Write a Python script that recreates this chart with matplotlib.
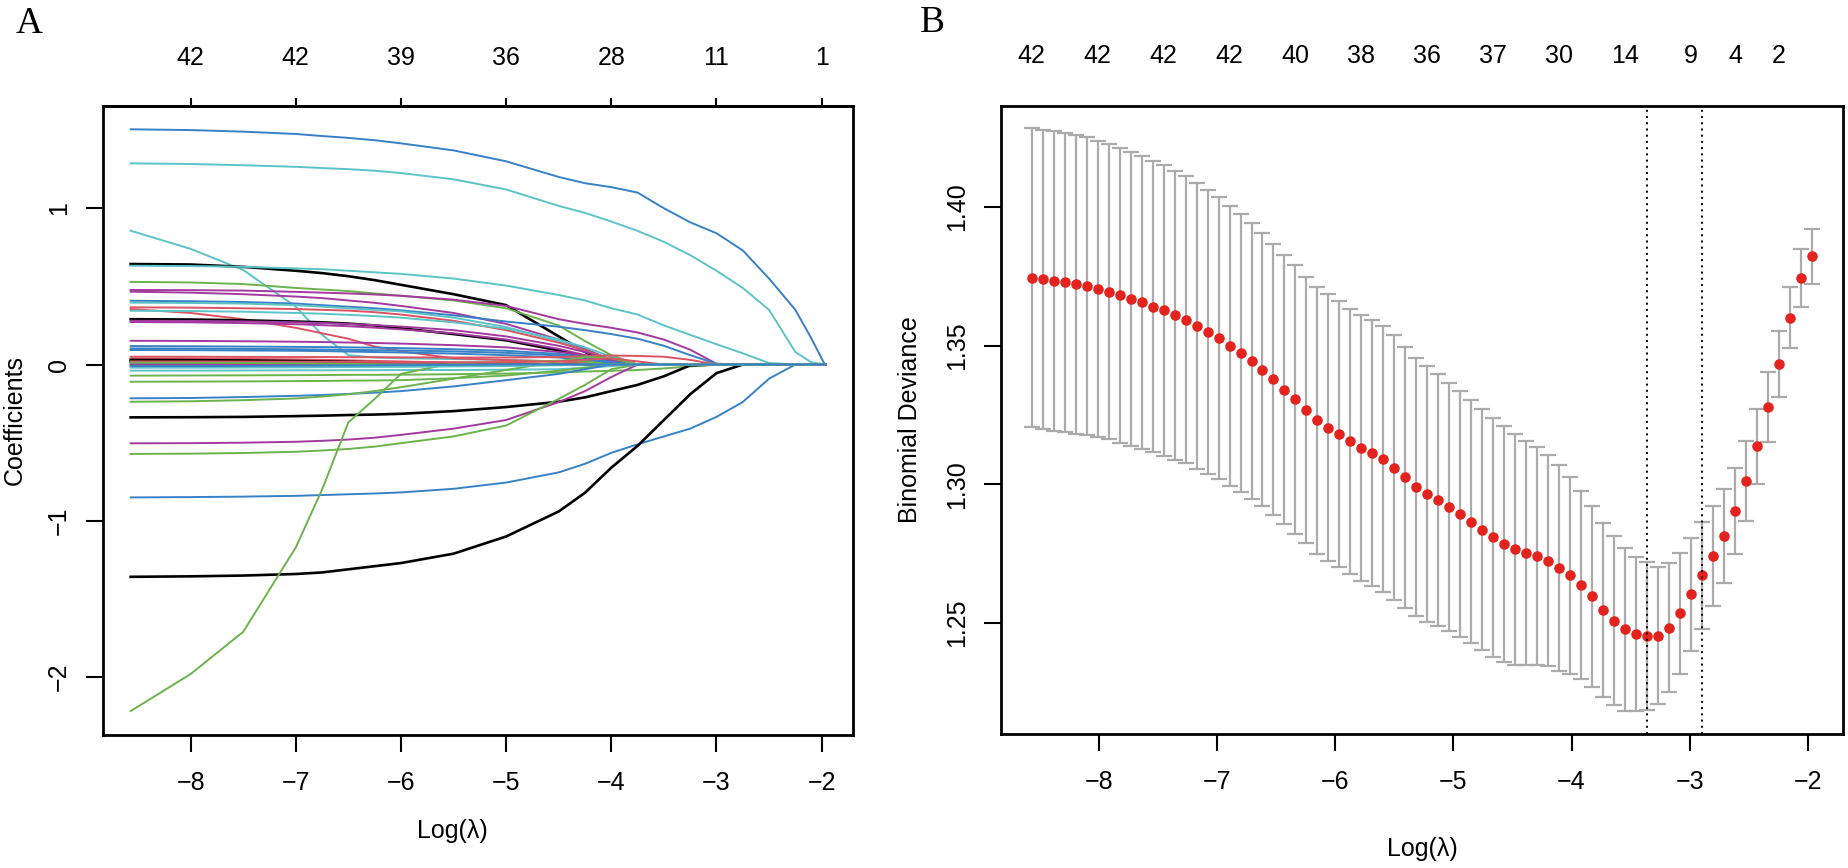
import matplotlib
matplotlib.use("Agg")
import matplotlib.pyplot as plt
import numpy as np

plt.rcParams['font.family'] = ['Liberation Sans', 'DejaVu Sans']

W, H = 1848, 868

# ---------------- panel A: coefficient paths ----------------
path_x = [-8.57, -8.0, -7.5, -7.0, -6.75, -6.5, -6.25, -6.0, -5.5, -5.0, -4.5,
          -4.25, -4.0, -3.75, -3.5, -3.25, -3.0, -2.75, -2.5, -2.25, -2.1, -1.97]

# one row per variable, read at path_x (trailing zeros left out)
coef_paths = [
    [1.505, 1.50, 1.49, 1.475, 1.462, 1.45, 1.435, 1.415, 1.37, 1.30, 1.20, 1.16, 1.135, 1.10, 1.00, 0.91, 0.84, 0.73, 0.55, 0.35, 0.17, 0.0],
    [1.287, 1.283, 1.275, 1.265, 1.257, 1.25, 1.24, 1.225, 1.185, 1.12, 1.015, 0.97, 0.915, 0.855, 0.785, 0.70, 0.60, 0.49, 0.35, 0.08, 0.015, 0.0],
    [0.856, 0.74, 0.605, 0.37, 0.19, 0.06, 0.045, 0.04, 0.035, 0.03, 0.02, 0.01, 0.0],
    [0.643, 0.64, 0.625, 0.60, 0.585, 0.565, 0.54, 0.51, 0.45, 0.38, 0.18, 0.08, 0.005, 0.0],
    [0.632, 0.63, 0.625, 0.615, 0.61, 0.60, 0.59, 0.58, 0.55, 0.505, 0.445, 0.41, 0.36, 0.32, 0.25, 0.19, 0.13, 0.072, 0.01, 0.0],
    [0.529, 0.525, 0.515, 0.49, 0.48, 0.47, 0.455, 0.44, 0.41, 0.36, 0.25, 0.15, 0.06, 0.0],
    [0.477, 0.476, 0.473, 0.465, 0.46, 0.455, 0.448, 0.44, 0.415, 0.375, 0.29, 0.26, 0.235, 0.205, 0.16, 0.095, 0.005, 0.0],
    [0.466, 0.46, 0.45, 0.435, 0.425, 0.41, 0.395, 0.375, 0.33, 0.26, 0.16, 0.10, 0.03, 0.0],
    [0.408, 0.405, 0.40, 0.39, 0.38, 0.37, 0.36, 0.347, 0.315, 0.275, 0.242, 0.22, 0.195, 0.165, 0.12, 0.06, 0.005, 0.0],
    [0.396, 0.394, 0.39, 0.38, 0.37, 0.36, 0.35, 0.34, 0.30, 0.24, 0.15, 0.09, 0.03, 0.0],
    [0.366, 0.364, 0.36, 0.355, 0.35, 0.345, 0.335, 0.32, 0.28, 0.22, 0.14, 0.09, 0.03, 0.0],
    [0.355, 0.33, 0.29, 0.235, 0.20, 0.165, 0.115, 0.085, 0.04, 0.028, 0.02, 0.01, 0.0],
    [0.344, 0.342, 0.338, 0.33, 0.325, 0.318, 0.31, 0.30, 0.27, 0.23, 0.16, 0.11, 0.05, 0.0],
    [0.29, 0.288, 0.283, 0.275, 0.27, 0.262, 0.25, 0.232, 0.195, 0.155, 0.09, 0.05, 0.005, 0.0],
    [0.28, 0.279, 0.276, 0.27, 0.266, 0.26, 0.252, 0.243, 0.22, 0.18, 0.12, 0.08, 0.03, 0.0],
    [0.272, 0.27, 0.265, 0.258, 0.252, 0.245, 0.236, 0.225, 0.20, 0.16, 0.10, 0.06, 0.02, 0.0],
    [0.152, 0.151, 0.149, 0.146, 0.144, 0.141, 0.138, 0.134, 0.124, 0.11, 0.08, 0.06, 0.02, 0.0],
    [0.118, 0.117, 0.115, 0.113, 0.112, 0.11, 0.108, 0.105, 0.098, 0.088, 0.068, 0.05, 0.015, 0.0],
    [0.103, 0.102, 0.10, 0.098, 0.096, 0.094, 0.092, 0.09, 0.084, 0.075, 0.058, 0.042, 0.012, 0.0],
    [0.093, 0.092, 0.09, 0.088, 0.086, 0.083, 0.08, 0.077, 0.07, 0.06, 0.045, 0.03, 0.01, 0.0],
    [0.05, 0.05, 0.049, 0.048, 0.048, 0.047, 0.047, 0.046, 0.045, 0.045, 0.048, 0.053, 0.058, 0.055, 0.05, 0.03, 0.0],
    [0.039, 0.038, 0.036, 0.033, 0.03, 0.027, 0.023, 0.02, 0.012, 0.005, 0.0],
    [0.029, 0.028, 0.026, 0.022, 0.02, 0.017, 0.014, 0.01, 0.005, 0.0],
    [0.018, 0.017, 0.015, 0.012, 0.01, 0.008, 0.005, 0.003, 0.0],
    [0.007, 0.006, 0.005, 0.003, 0.002, 0.001, 0.0],
    [-0.003, -0.003, -0.002, -0.001, 0.0],
    [-0.039, -0.039, -0.038, -0.037, -0.037, -0.036, -0.036, -0.035, -0.035, -0.033, -0.03, -0.02, -0.01, 0.0],
    [-0.071, -0.07, -0.069, -0.068, -0.067, -0.066, -0.066, -0.065, -0.062, -0.058, -0.05, -0.045, -0.04, -0.035, -0.025, -0.012, 0.0],
    [-0.11, -0.109, -0.108, -0.106, -0.105, -0.103, -0.102, -0.10, -0.088, -0.07, -0.04, -0.02, 0.0],
    [-0.216, -0.214, -0.208, -0.20, -0.195, -0.188, -0.18, -0.17, -0.14, -0.10, -0.06, -0.03, 0.0],
    [-0.238, -0.235, -0.228, -0.217, -0.205, -0.19, -0.17, -0.145, -0.09, -0.035, 0.02, 0.05, 0.04, 0.0],
    [-0.338, -0.337, -0.335, -0.33, -0.327, -0.323, -0.32, -0.315, -0.298, -0.272, -0.238, -0.21, -0.17, -0.13, -0.075, -0.005, 0.0],
    [-0.504, -0.503, -0.50, -0.494, -0.488, -0.48, -0.468, -0.45, -0.41, -0.355, -0.24, -0.17, -0.08, 0.0],
    [-0.572, -0.57, -0.566, -0.558, -0.55, -0.54, -0.525, -0.503, -0.46, -0.39, -0.22, -0.13, -0.03, 0.0],
    [-0.85, -0.848, -0.845, -0.84, -0.835, -0.83, -0.825, -0.818, -0.795, -0.755, -0.69, -0.635, -0.565, -0.51, -0.46, -0.41, -0.335, -0.24, -0.09, 0.0],
    [-1.358, -1.355, -1.35, -1.34, -1.33, -1.31, -1.29, -1.27, -1.21, -1.10, -0.94, -0.82, -0.66, -0.52, -0.355, -0.19, -0.055, 0.0],
    [-2.217, -1.98, -1.71, -1.17, -0.80, -0.37, -0.22, -0.06, 0.01, 0.015, 0.025, 0.02, 0.0],
    [0.012, 0.012, 0.011, 0.01, 0.009, 0.008, 0.007, 0.005, 0.0],
    [0.02, 0.02, 0.019, 0.018, 0.018, 0.017, 0.017, 0.016, 0.015, 0.015, 0.02, 0.03, 0.04, 0.02, 0.0],
    [0.012, 0.011, 0.01, 0.008, 0.006, 0.004, 0.002, 0.0],
    [-0.02, -0.02, -0.019, -0.018, -0.017, -0.016, -0.015, -0.015, -0.012, -0.01, -0.005, 0.0],
    [-0.01, -0.01, -0.009, -0.008, -0.007, -0.006, -0.005, -0.004, -0.002, 0.0],
]
path_colors = ['blue', 'cyan', 'cyan', 'black', 'cyan', 'green', 'magenta', 'magenta',
               'blue', 'cyan', 'red', 'red', 'cyan', 'black', 'magenta', 'magenta',
               'magenta', 'blue', 'blue', 'blue', 'red', 'red', 'black', 'black',
               'blue', 'magenta', 'cyan', 'green', 'green', 'blue', 'green', 'black',
               'magenta', 'green', 'blue', 'black', 'green', 'magenta', 'red', 'green',
               'cyan', 'blue']
a_top_ticks = [-8, -7, -6, -5, -4, -3, -2]
a_top_labels = ['42', '42', '39', '36', '28', '11', '1']

# ---------------- panel B: cross-validation curve ----------------
log_lambda = np.linspace(-8.569, -1.966, 72)   # glmnet lambda grid (evenly spaced in log)
cv_mean = [1.3745, 1.3739, 1.3734, 1.3729, 1.3721, 1.3714, 1.3705, 1.3695, 1.3682, 1.3668,
           1.3656, 1.3641, 1.3627, 1.3610, 1.3593, 1.3572, 1.3550, 1.3527, 1.3500, 1.3473,
           1.3444, 1.3413, 1.3379, 1.3342, 1.3306, 1.3268, 1.3231, 1.3205, 1.3181, 1.3155,
           1.3131, 1.3113, 1.3091, 1.3060, 1.3026, 1.2992, 1.2965, 1.2944, 1.2920, 1.2893,
           1.2865, 1.2836, 1.2809, 1.2784, 1.2766, 1.2753, 1.2741, 1.2725, 1.2699, 1.2672,
           1.2637, 1.2597, 1.2547, 1.2508, 1.2477, 1.2461, 1.2454, 1.2455, 1.2483, 1.2535,
           1.2604, 1.2672, 1.2742, 1.2814, 1.2904, 1.3012, 1.3138, 1.3278, 1.3434, 1.3601,
           1.3744, 1.3822]
cv_sd = [0.0538, 0.0539, 0.0540, 0.0539, 0.0539, 0.0537, 0.0534, 0.0532, 0.0532, 0.0531,
         0.0529, 0.0526, 0.0523, 0.0521, 0.0517, 0.0516, 0.0513, 0.0509, 0.0505, 0.0501,
         0.0497, 0.0492, 0.0488, 0.0486, 0.0484, 0.0481, 0.0481, 0.0480, 0.0479, 0.0478,
         0.0480, 0.0480, 0.0480, 0.0477, 0.0470, 0.0465, 0.0460, 0.0453, 0.0447, 0.0444,
         0.0438, 0.0434, 0.0431, 0.0425, 0.0416, 0.0404, 0.0393, 0.0380, 0.0370, 0.0354,
         0.0340, 0.0326, 0.0314, 0.0305, 0.0294, 0.0279, 0.0266, 0.0247, 0.0232, 0.0217,
         0.0204, 0.0194, 0.0179, 0.0168, 0.0156, 0.0145, 0.0135, 0.0127, 0.0119, 0.0111,
         0.0104, 0.0099]
b_top_index = [0, 6, 12, 18, 24, 30, 36, 42, 48, 54, 60, 64, 68]
b_top_labels = ['42', '42', '42', '42', '40', '38', '36', '37', '30', '14', '9', '4', '2']

palette = {'black': '#000000', 'red': '#DC5262', 'green': '#6BB34C',
           'blue': '#3781C6', 'cyan': '#5CC3C6', 'magenta': '#A3399E'}

fig = plt.figure(figsize=(W / 100, H / 100), dpi=100)
axA = fig.add_axes([103 / W, 1 - 735 / H, 750 / W, 629 / H])
axB = fig.add_axes([1000.6 / W, 1 - 733.5 / H, 842.4 / W, 627.5 / H])

n_pts = len(path_x)
for row, col in zip(coef_paths, path_colors):
    y = row + [0.0] * (n_pts - len(row))
    lw = 1.9 if col == 'black' else 1.4
    axA.plot(path_x, y, color=palette[col], lw=lw, solid_joinstyle='round')

axA.set_xlim(-8.833, -1.702)
axA.set_ylim(-2.370, 1.654)
axA.set_xticks([-8, -7, -6, -5, -4, -3, -2])
axA.set_xticklabels(['\u22128', '\u22127', '\u22126', '\u22125', '\u22124', '\u22123', '\u22122'])
axA.set_yticks([-2, -1, 0, 1])
axA.set_yticklabels(['\u22122', '\u22121', '0', '1'], rotation=90, va='center')
topA = axA.secondary_xaxis('top')
topA.set_xticks(a_top_ticks)
topA.set_xticklabels(a_top_labels)
topA.tick_params(length=6, width=1.5, pad=20, labelsize=18)
topA.spines['top'].set_linewidth(2)

# B: error bars then red points
axB.errorbar(log_lambda, cv_mean, yerr=cv_sd, fmt='none', ecolor='#ABABAB',
             elinewidth=1.6, capsize=6, capthick=1.6, zorder=2)
axB.plot(log_lambda, cv_mean, 'o', color='#E3241E', markersize=7.6,
         markeredgewidth=0, zorder=3)
cvm = np.array(cv_mean)
i_min = int(np.argmin(cvm))
i_1se = int(np.max(np.where(cvm <= cvm[i_min] + cv_sd[i_min])[0]))
for i in (i_min, i_1se):
    axB.axvline(log_lambda[i], color='black', lw=1.4, linestyle=(0, (1, 2.2)), zorder=4)

axB.set_xlim(-8.833, -1.702)
axB.set_ylim(1.2102, 1.4364)
axB.set_xticks([-8, -7, -6, -5, -4, -3, -2])
axB.set_xticklabels(['\u22128', '\u22127', '\u22126', '\u22125', '\u22124', '\u22123', '\u22122'])
axB.set_yticks([1.25, 1.30, 1.35, 1.40])
axB.set_yticklabels(['1.25', '1.30', '1.35', '1.40'], rotation=90, va='center')
topB = axB.secondary_xaxis('top')
topB.set_xticks([log_lambda[i] for i in b_top_index])
topB.set_xticklabels(b_top_labels)
topB.tick_params(length=0, pad=27, labelsize=18)

for ax in (axA, axB):
    for sp in ax.spines.values():
        sp.set_linewidth(2)
    ax.tick_params(axis='x', length=12, width=1.5, pad=14, labelsize=18)
    ax.tick_params(axis='y', length=12, width=1.5, pad=11, labelsize=18)

# axis titles and panel letters
fig.text(15 / W, 1 - 420 / H, 'Coefficients', rotation=90, ha='center', va='center', fontsize=18)
fig.text(452 / W, 1 - 831 / H, 'Log(\u03bb)', ha='center', va='center', fontsize=18)
fig.text(910 / W, 1 - 420 / H, 'Binomial Deviance', rotation=90, ha='center', va='center', fontsize=18)
fig.text(1422 / W, 1 - 849 / H, 'Log(\u03bb)', ha='center', va='center', fontsize=18)
fig.text(16 / W, 1 - 33 / H, 'A', ha='left', va='baseline', fontsize=27, family='Liberation Serif')
fig.text(920 / W, 1 - 32 / H, 'B', ha='left', va='baseline', fontsize=27, family='Liberation Serif')

fig.savefig('out.png', dpi=100)
